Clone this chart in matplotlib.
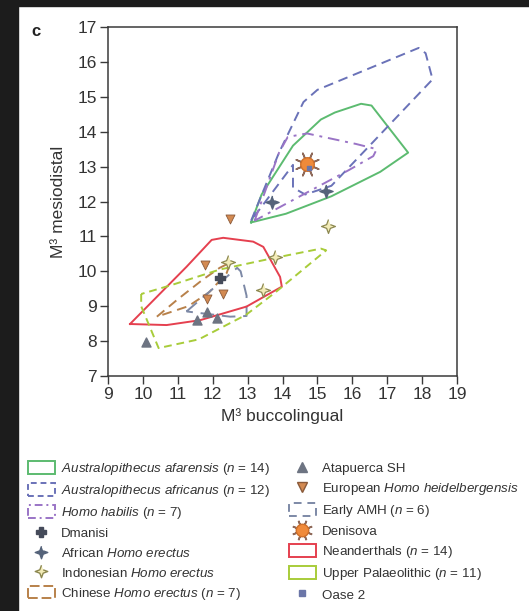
import numpy as np
import matplotlib
matplotlib.use('Agg')
import matplotlib.pyplot as plt
from matplotlib.patches import Patch, Rectangle
from matplotlib.lines import Line2D

plt.rcParams['font.family'] = ['Liberation Sans', 'DejaVu Sans']
plt.rcParams['mathtext.fontset'] = 'custom'
plt.rcParams['mathtext.rm'] = 'Liberation Sans'
plt.rcParams['mathtext.it'] = 'Liberation Sans:italic'

# ---- data (M3 buccolingual, M3 mesiodistal) ----
afarensis_x = [13.1, 13.4, 14.3, 15.1, 15.5, 16.25, 16.55, 17.6, 16.8, 15.4, 14.1, 13.1]
afarensis_y = [11.4, 12.2, 13.6, 14.35, 14.55, 14.8, 14.75, 13.4, 12.85, 12.15, 11.65, 11.4]

africanus_x = [13.1, 13.9, 14.6, 15.0, 17.9, 18.1, 18.3, 16.4, 15.4, 14.65, 14.3, 14.3, 13.1]
africanus_y = [11.45, 13.4, 14.85, 15.2, 16.4, 16.25, 15.5, 13.5, 12.45, 12.2, 12.4, 13.05, 11.45]

habilis_x = [13.2, 13.9, 14.15, 14.7, 16.1, 16.7, 16.6, 15.9, 14.5, 13.2]
habilis_y = [11.45, 13.4, 13.85, 13.95, 13.65, 13.5, 13.3, 12.9, 12.15, 11.45]

chinese_x = [10.4, 11.0, 11.7, 12.2, 12.5, 12.4, 11.9, 11.3, 10.4]
chinese_y = [8.7, 9.2, 9.75, 10.1, 10.25, 9.95, 9.4, 9.0, 8.7]

early_amh_x = [11.25, 12.7, 12.8, 12.97, 12.97, 12.5, 11.25]
early_amh_y = [8.85, 10.1, 10.0, 9.3, 8.72, 8.7, 8.85]

neander_x = [9.63, 10.68, 11.64, 12.97, 13.98, 13.93, 13.45, 13.16, 12.3, 11.97, 11.25, 9.63]
neander_y = [8.49, 8.46, 8.6, 8.99, 9.56, 9.84, 10.7, 10.85, 10.96, 10.9, 10.13, 8.49]

upper_pal_x = [9.95, 9.95, 10.45, 11.6, 12.95, 13.8, 15.25, 15.1, 13.6, 12.2, 10.8, 9.95]
upper_pal_y = [9.35, 9.0, 7.8, 8.05, 8.75, 9.4, 10.6, 10.65, 10.35, 10.05, 9.6, 9.35]

atapuerca_x = [10.1, 11.54, 11.83, 12.13]
atapuerca_y = [7.98, 8.6, 8.84, 8.67]

heidel_x = [12.5, 11.78, 11.83, 12.3]
heidel_y = [11.5, 10.18, 9.22, 9.35]

dmanisi_x = [12.2]
dmanisi_y = [9.8]

afr_erectus_x = [13.69, 15.26]
afr_erectus_y = [11.98, 12.3]

indo_erectus_x = [15.31, 13.79, 12.45, 13.45]
indo_erectus_y = [11.3, 10.42, 10.27, 9.46]

denisova_x = [14.69]
denisova_y = [13.08]

oase_x = [14.75]
oase_y = [12.95]

# ---- styles ----
c_afar = '#5cbb70'
c_afric = '#6a72b8'
c_habilis = '#9a74c6'
c_chinese = '#b8814a'
c_amh = '#7d89a6'
c_neander = '#e5404f'
c_up = '#a8cc3a'

# concave four-point star marker
ang = np.arange(8) * np.pi / 4 + np.pi / 2
rad = np.where(np.arange(8) % 2 == 0, 1.0, 0.38)
star4 = list(zip(rad * np.cos(ang), rad * np.sin(ang)))

fig = plt.figure(figsize=(5.29, 6.11), dpi=100)
ax = fig.add_axes([0.2042, 0.3846, 0.6597, 0.5712])

polys = [
    (afarensis_x, afarensis_y, c_afar, '-'),
    (africanus_x, africanus_y, c_afric, (0, (5, 3))),
    (habilis_x, habilis_y, c_habilis, (0, (6, 3, 1.5, 3))),
    (chinese_x, chinese_y, c_chinese, (0, (5, 3))),
    (early_amh_x, early_amh_y, c_amh, (0, (7, 4))),
    (neander_x, neander_y, c_neander, '-'),
    (upper_pal_x, upper_pal_y, c_up, (0, (4, 2.5))),
]
for px, py, col, ls in polys:
    ax.plot(px, py, color=col, lw=1.4, ls=ls, zorder=2)

ax.scatter(atapuerca_x, atapuerca_y, marker='^', s=42, color='#6d7482', zorder=4)
ax.scatter(heidel_x, heidel_y, marker='v', s=42, color='#d38a52',
           edgecolor='#8a5a3a', linewidth=0.6, zorder=4)
ax.scatter(dmanisi_x, dmanisi_y, marker='P', s=45, color='#454b5a', zorder=5)
ax.scatter(afr_erectus_x, afr_erectus_y, marker=star4, s=90, color='#55637a', zorder=5)
ax.scatter(indo_erectus_x, indo_erectus_y, marker=star4, s=100, color='#f3ecb8',
           edgecolor='#8c8850', linewidth=0.9, zorder=5)
ax.scatter(denisova_x, denisova_y, marker=(8, 2, 22.5), s=300, color='#8f6a5a',
           linewidth=1.2, zorder=5)
ax.scatter(denisova_x, denisova_y, marker='o', s=95, color='#f08a3a',
           edgecolor='#d0702a', zorder=6)
ax.scatter(oase_x, oase_y, marker='s', s=12, color='#6b76a8', zorder=7)

ax.set_xlim(9, 19)
ax.set_ylim(7, 17)
ax.set_xticks(np.arange(9, 20))
ax.set_yticks(np.arange(7, 18))
for s in ax.spines.values():
    s.set_color('#3a3a3a')
    s.set_linewidth(1.1)
ax.tick_params(direction='out', length=6, width=1.0, color='#3a3a3a',
               labelsize=12.5, labelcolor='#333333', pad=2)
ax.set_xlabel('M³ buccolingual', fontsize=12.5, color='#333333', labelpad=4)
ax.set_ylabel('M³ mesiodistal', fontsize=12.5, color='#333333', labelpad=8)

fig.text(0.068, 0.948, 'c', fontsize=12, fontweight='bold', color='#222222',
         ha='center', va='center')

# ---- legend ----
def box(col, ls):
    return Patch(facecolor='none', edgecolor=col, linewidth=1.4, linestyle=ls)

handles = [
    box(c_afar, '-'),
    box(c_afric, (0, (3, 2))),
    box(c_habilis, (0, (4, 2, 1, 2))),
    Line2D([], [], ls='none', marker='P', ms=7, color='#454b5a'),
    Line2D([], [], ls='none', marker=star4, ms=9, color='#55637a'),
    Line2D([], [], ls='none', marker=star4, ms=9, mfc='#f3ecb8', mec='#8c8850'),
    box(c_chinese, (0, (5, 2))),
    Line2D([], [], ls='none', marker='^', ms=7, color='#6d7482'),
    Line2D([], [], ls='none', marker='v', ms=7, color='#d38a52', mec='#8a5a3a'),
    box(c_amh, (0, (4, 3))),
    (Line2D([], [], ls='none', marker=(8, 2, 22.5), ms=15, color='#8f6a5a', mew=1.2),
     Line2D([], [], ls='none', marker='o', ms=9, color='#f08a3a', mec='#d0702a')),
    box(c_neander, '-'),
    box(c_up, '-'),
    Line2D([], [], ls='none', marker='s', ms=4, color='#6b76a8'),
]
labels = [
    r'$\mathit{Australopithecus\ afarensis}$ ($\mathit{n}$ = 14)',
    r'$\mathit{Australopithecus\ africanus}$ ($\mathit{n}$ = 12)',
    r'$\mathit{Homo\ habilis}$ ($\mathit{n}$ = 7)',
    'Dmanisi',
    r'African $\mathit{Homo\ erectus}$',
    r'Indonesian $\mathit{Homo\ erectus}$',
    r'Chinese $\mathit{Homo\ erectus}$ ($\mathit{n}$ = 7)',
    'Atapuerca SH',
    r'European $\mathit{Homo\ heidelbergensis}$',
    r'Early AMH ($\mathit{n}$ = 6)',
    'Denisova',
    r'Neanderthals ($\mathit{n}$ = 14)',
    r'Upper Palaeolithic ($\mathit{n}$ = 11)',
    'Oase 2',
]
fig.legend(handles, labels, ncol=2, loc='upper left',
           bbox_to_anchor=(0.053, 0.245), frameon=False, fontsize=9.6,
           borderpad=0, borderaxespad=0, handlelength=2.0, handleheight=1.1,
           handletextpad=0.5, labelspacing=0.43, columnspacing=1.4,
           labelcolor='#333333')

# dark frame strips of the screenshot
fig.add_artist(Rectangle((0, 0), 18 / 529, 1, transform=fig.transFigure,
                         color='#1c1c1c', zorder=10))
fig.add_artist(Rectangle((0, 1 - 6 / 611), 1, 6 / 611, transform=fig.transFigure,
                         color='#1c1c1c', zorder=10))

fig.savefig('out.png', dpi=100)
